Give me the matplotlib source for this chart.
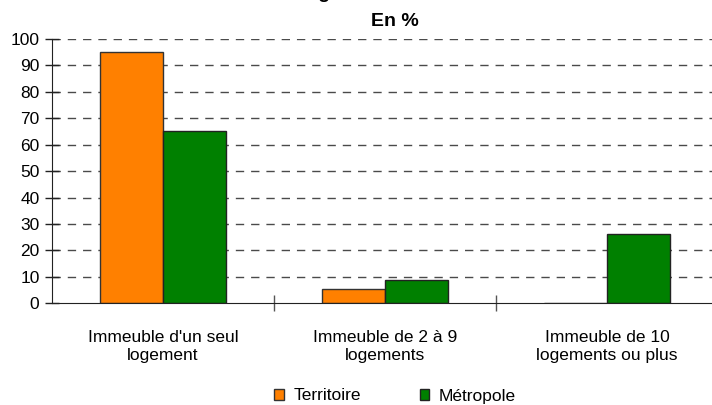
import matplotlib
matplotlib.use("Agg")
import matplotlib.pyplot as plt
import numpy as np

categories = ["Immeuble d'un seul\nlogement", "Immeuble de 2 à 9\nlogements", "Immeuble de 10\nlogements ou plus"]
series_names = ["Territoire", "Métropole"]
territoire = [95.1, 5.3, 0.0]
metropole = [65.2, 8.7, 26.3]
yticks = [0, 10, 20, 30, 40, 50, 60, 70, 80, 90, 100]
title_line1 = "Nombre de logements dans l'immeuble"
title_line2 = "En %"

plt.rcParams['font.family'] = ['Liberation Sans', 'DejaVu Sans']

fig = plt.figure(figsize=(7.12, 4.05), dpi=100)
W, H = 712, 405
left, right, top, bottom = 52, 718, 39, 303.3
ax = fig.add_axes([left / W, 1 - bottom / H, (right - left) / W, (bottom - top) / H])

x = np.arange(len(categories))
bw = 0.285
ax.bar(x - bw / 2, territoire, bw, color='#FF8000', edgecolor='#333333', linewidth=1, label=series_names[0], zorder=3)
ax.bar(x + bw / 2, metropole, bw, color='#008000', edgecolor='#222222', linewidth=1, label=series_names[1], zorder=3)

ax.set_xlim(-0.5, 2.5)
ax.set_ylim(0, 100)
ax.set_yticks(yticks)
ax.set_yticklabels([str(v) for v in yticks], fontsize=12.5)
ax.set_xticks(x)
ax.set_xticklabels(categories, fontsize=12.5, linespacing=1.25)
ax.tick_params(axis='x', which='major', length=0, pad=19)
ax.set_xticks([0.5, 1.5], minor=True)
ax.tick_params(axis='x', which='minor', length=12, direction='inout', color='#555555', width=1)
ax.tick_params(axis='y', which='major', length=10, direction='inout', width=1, color='#222222', pad=4)

for v in yticks[1:]:
    ax.axhline(v, color='#4a4a4a', linewidth=1, linestyle=(0, (6, 5)), zorder=1)

for s in ['top', 'right']:
    ax.spines[s].set_visible(False)
ax.spines['left'].set_color('#222222')
ax.spines['bottom'].set_color('#222222')
ax.spines['left'].set_zorder(4)
ax.spines['bottom'].set_zorder(4)

fig.text(375 / W, 1 + 2 / H, title_line1, ha='center', va='baseline', fontsize=14, fontweight='bold')
fig.text(395 / W, 1 - 22 / H, title_line2, ha='center', va='center', fontsize=14, fontweight='bold')

fig.legend(loc='center', bbox_to_anchor=(395 / W, 1 - 396 / H), ncol=2, frameon=False,
           fontsize=12.5, handlelength=0.55, handleheight=0.55, handletextpad=0.55,
           columnspacing=3.4, borderpad=0)

fig.savefig('out.png', dpi=100)
